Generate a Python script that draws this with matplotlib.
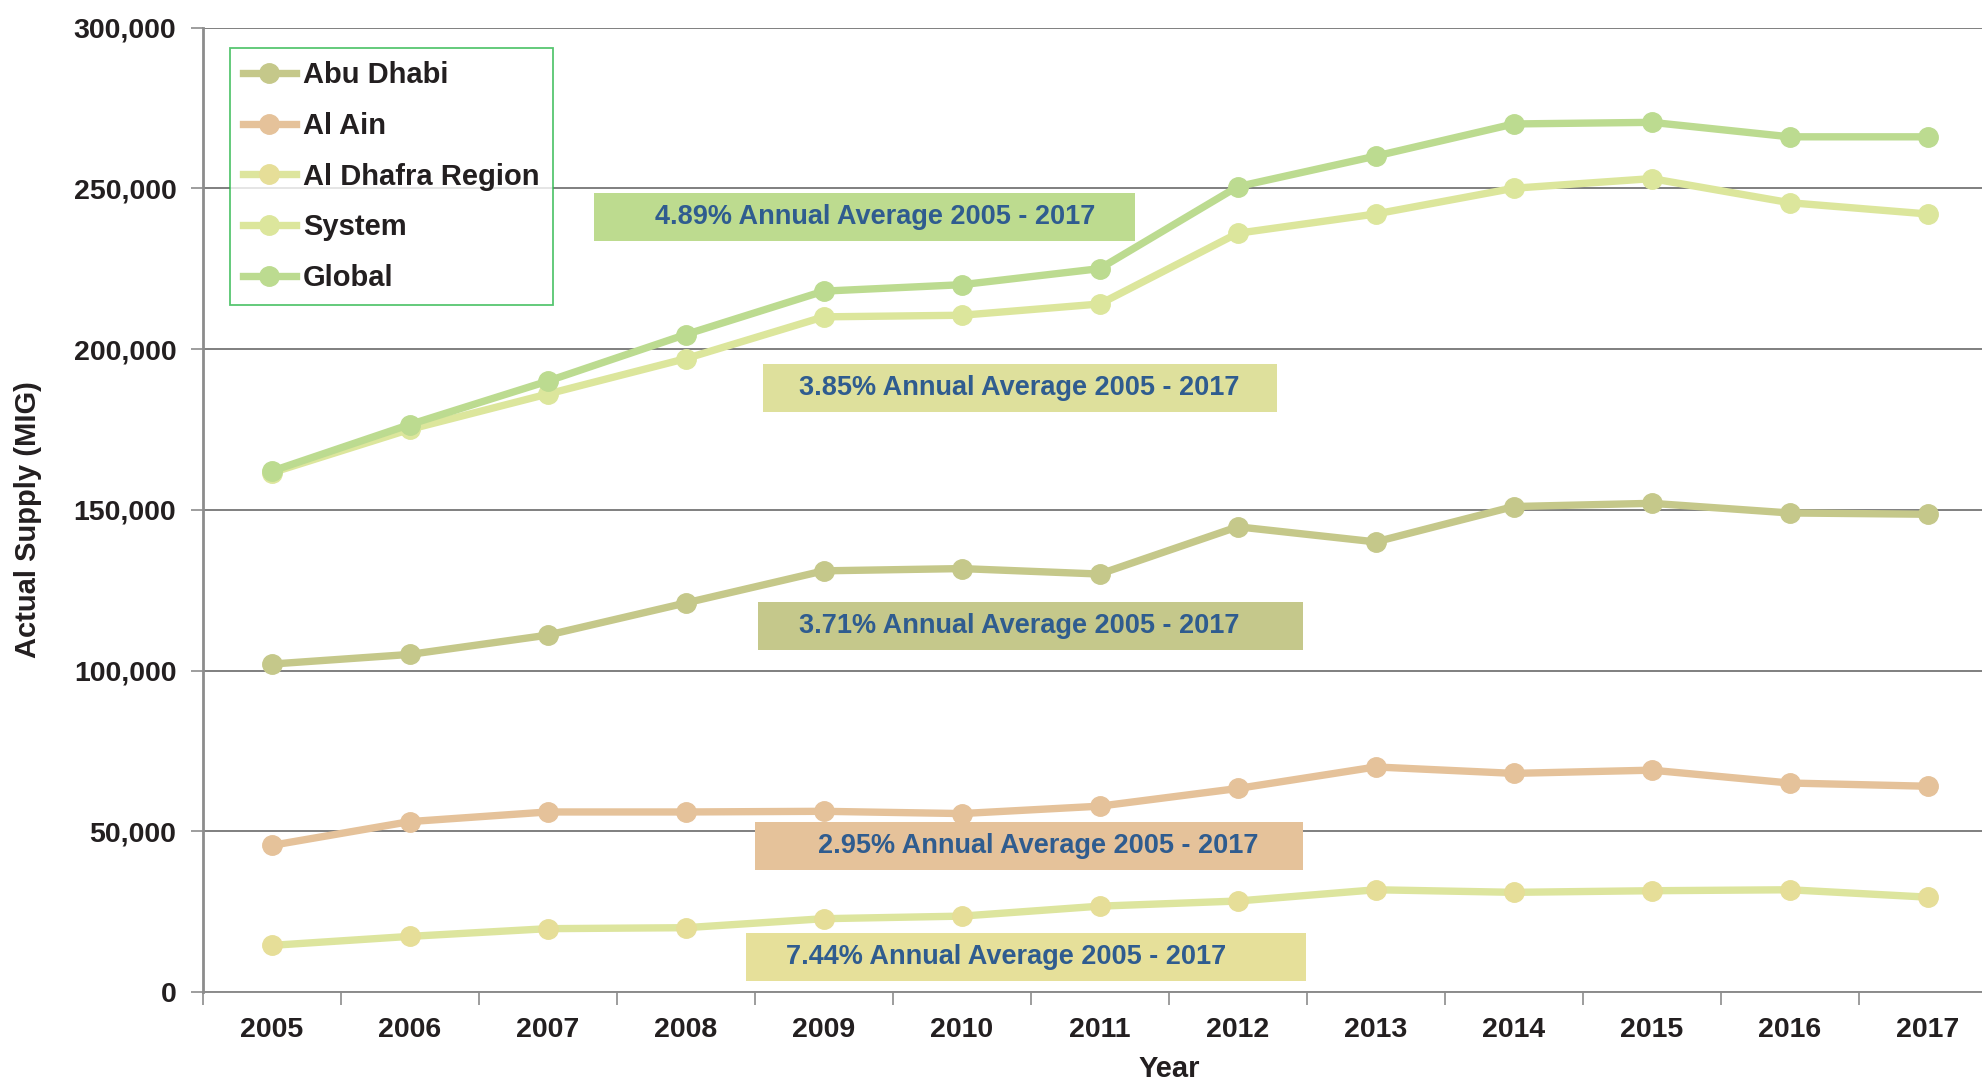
import matplotlib.pyplot as plt
from matplotlib.patches import Rectangle

plt.rcParams['font.family'] = ['Liberation Sans', 'DejaVu Sans']

years = ['2005', '2006', '2007', '2008', '2009', '2010', '2011',
         '2012', '2013', '2014', '2015', '2016', '2017']

abu_dhabi = [102000, 105000, 111000, 121000, 131000, 131700, 130000,
             144700, 140000, 151000, 152000, 149000, 148600]
al_ain = [45600, 53000, 56000, 56000, 56200, 55500, 57800,
          63300, 70000, 68000, 69000, 65000, 64000]
al_dhafra = [14500, 17300, 19700, 20000, 22800, 23600, 26700,
             28300, 31800, 31000, 31500, 31800, 29500]
system = [161500, 175000, 186000, 197000, 210000, 210500, 214000,
          236000, 242000, 250000, 253000, 245500, 242000]
global_supply = [162000, 176500, 190000, 204500, 218000, 220000, 225000,
                 250500, 260000, 270000, 270500, 266000, 266000]

series_names = ['Abu Dhabi', 'Al Ain', 'Al Dhafra Region', 'System', 'Global']
line_colors = ['#C5C88A', '#E5C29A', '#DDE59E', '#DCE69C', '#BCDB90']
marker_colors = ['#C5C88A', '#E5C29A', '#E6DE98', '#DCE69C', '#BCDB90']

growth_labels = ['4.89% Annual Average 2005 - 2017',
                 '3.85% Annual Average 2005 - 2017',
                 '3.71% Annual Average 2005 - 2017',
                 '2.95% Annual Average 2005 - 2017',
                 '7.44% Annual Average 2005 - 2017']
box_colors = ['#BDDB8F', '#DEE09C', '#C5C88B', '#E5C29A', '#E6E09A']

W, H = 1982, 1082
fig = plt.figure(figsize=(W / 100, H / 100), dpi=100)
ax = fig.add_axes([202.7 / W, 90 / H, 13 * 138.0 / W, 964.5 / H])

x = list(range(len(years)))
data = [abu_dhabi, al_ain, al_dhafra, system, global_supply]
for name, vals, lc, mc in zip(series_names, data, line_colors, marker_colors):
    ax.plot(x, vals, color=lc, lw=5.3, marker='o', markersize=14,
            markerfacecolor=mc, markeredgecolor=mc, label=name, zorder=4)

ax.set_xlim(-0.5, len(years) - 0.5)
ax.set_ylim(0, 300000)
ax.set_yticks(range(0, 300001, 50000))
ax.set_yticklabels([f'{v:,}' for v in range(0, 300001, 50000)],
                   fontsize=20.5, fontweight='bold', color='#231F20')
ax.set_xticks(x)
ax.set_xticklabels(years, fontsize=20.5, fontweight='bold', color='#231F20')
ax.set_xticks([i - 0.5 for i in range(len(years) + 1)], minor=True)
ax.tick_params(axis='x', which='major', length=0, pad=18)
ax.tick_params(axis='x', which='minor', length=9, width=1.2, color='#8C8C8C')
ax.tick_params(axis='y', length=9, width=1.2, color='#8C8C8C', pad=10)

ax.grid(axis='y', color='#7F7F7F', lw=1.4, zorder=1)
for s in ['top', 'right']:
    ax.spines[s].set_visible(False)
ax.spines['left'].set_color('#8C8C8C')
ax.spines['left'].set_linewidth(2)
ax.spines['bottom'].set_color('#8C8C8C')
ax.spines['bottom'].set_linewidth(1.4)

fig.text(28 / W, 1 - 520 / H, 'Actual Supply (MIG)', rotation=90,
         ha='center', va='center', fontsize=21, fontweight='bold',
         color='#231F20')
fig.text(1169 / W, 1 - 1069 / H, 'Year', ha='center', va='center',
         fontsize=21, fontweight='bold', color='#231F20')

# growth rate boxes (pixel layout)
boxes = [(594, 193, 1135, 241, 655),
         (763, 364, 1277, 412, 799),
         (758, 602, 1303, 650, 799),
         (755, 822, 1303, 870, 818),
         (746, 933, 1306, 981, 786)]
for (x0, y0, x1, y1, tx), lab, bc in zip(boxes, growth_labels, box_colors):
    fig.patches.append(Rectangle((x0 / W, 1 - y1 / H), (x1 - x0) / W,
                                 (y1 - y0) / H, transform=fig.transFigure,
                                 facecolor=bc, edgecolor='none', zorder=2))
    fig.text(tx / W, 1 - (y0 + y1) / 2 / H, lab, ha='left', va='center',
             fontsize=19.5, fontweight='bold', color='#2F5C8F', zorder=3)

leg = ax.legend(loc='upper left', bbox_to_anchor=(230 / W, 1 - 48 / H),
                bbox_transform=fig.transFigure,
                prop={'weight': 'bold', 'size': 21}, frameon=True,
                fancybox=False, handlelength=1.8, handletextpad=0.25,
                labelspacing=0.78, borderpad=0.45, borderaxespad=0)
leg.get_frame().set_edgecolor('#2DB84D')
leg.get_frame().set_linewidth(1.3)
for t in leg.get_texts():
    t.set_color('#231F20')

fig.savefig('out.png', dpi=100)
